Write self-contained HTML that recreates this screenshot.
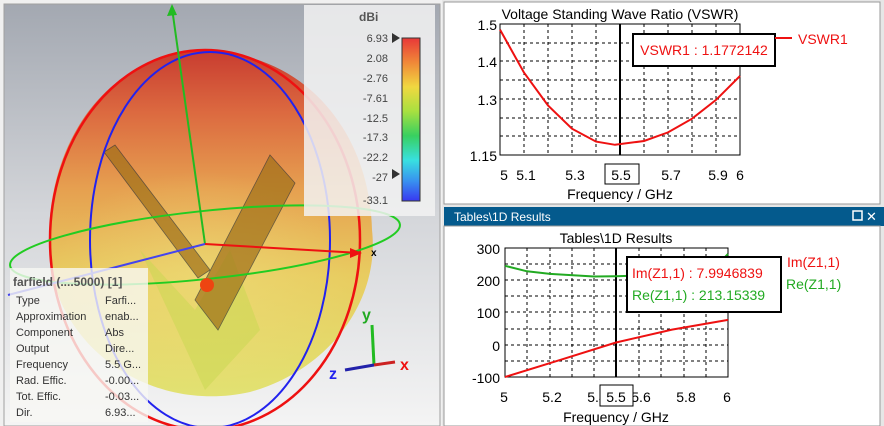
<!DOCTYPE html>
<html><head><meta charset="utf-8"><style>
body{margin:0;width:884px;height:426px;overflow:hidden;background:#e6e6e6;font-family:"Liberation Sans","DejaVu Sans",sans-serif}
svg{position:absolute;left:0;top:0}
</style></head><body>
<svg width="884" height="426" viewBox="0 0 884 426" xmlns="http://www.w3.org/2000/svg" font-family="Liberation Sans, DejaVu Sans, sans-serif">
<defs>
<linearGradient id="bg" x1="0" y1="0" x2="0" y2="1"><stop offset="0" stop-color="#a3a8b1"/><stop offset="0.5" stop-color="#d4d6da"/><stop offset="1" stop-color="#f4f4f4"/></linearGradient>
<linearGradient id="blob" x1="0" y1="0" x2="0" y2="1"><stop offset="0" stop-color="#c83c30"/><stop offset="0.18" stop-color="#dc6a40"/><stop offset="0.4" stop-color="#e6a050"/><stop offset="0.65" stop-color="#e8cc60"/><stop offset="1" stop-color="#e2e272"/></linearGradient>
<radialGradient id="hl" cx="0.5" cy="0.55" r="0.5"><stop offset="0" stop-color="#f0e080" stop-opacity="0.5"/><stop offset="1" stop-color="#f0e080" stop-opacity="0"/></radialGradient>
<linearGradient id="cb" x1="0" y1="0" x2="0" y2="1"><stop offset="0" stop-color="#e83838"/><stop offset="0.15" stop-color="#f08838"/><stop offset="0.3" stop-color="#f0d840"/><stop offset="0.45" stop-color="#a8e040"/><stop offset="0.6" stop-color="#38d060"/><stop offset="0.75" stop-color="#38e0e0"/><stop offset="0.88" stop-color="#3890f0"/><stop offset="1" stop-color="#3838f0"/></linearGradient>
</defs>
<rect x="0" y="0" width="442" height="426" fill="#f0f0f0"/>
<rect x="4" y="4" width="436" height="422" fill="url(#bg)" stroke="#a0a0a0"/>
<path d="M180,52 C300,40 370,130 372,230 C380,300 330,370 250,392 C170,410 90,370 60,300 C30,220 60,80 180,52Z" fill="url(#blob)"/>
<ellipse cx="200" cy="270" rx="150" ry="110" fill="url(#hl)"/>
<path d="M140,250 L195,310 L230,250 L260,330 L205,390 Z" fill="#c8d850" opacity="0.5"/>
<path d="M104,152 L115,145 L210,270 L198,278Z M270,155 L295,183 L218,330 L195,300Z" fill="#a07018" opacity="0.7" stroke="#333" stroke-width="0.8"/>
<ellipse cx="205" cy="240" rx="155" ry="190" fill="none" stroke="#ee1111" stroke-width="2.5"/>
<ellipse cx="210" cy="240" rx="120" ry="188" fill="none" stroke="#2222ee" stroke-width="2"/>
<ellipse cx="205" cy="245" rx="196" ry="34" transform="rotate(-6 205 245)" fill="none" stroke="#22cc22" stroke-width="2"/>
<line x1="205" y1="244" x2="172" y2="8" stroke="#22bb22" stroke-width="2"/>
<polygon points="172,4 167,16 177,15" fill="#22bb22"/>
<line x1="205" y1="244" x2="360" y2="253" stroke="#ee1111" stroke-width="2"/>
<polygon points="362,253 350,248 350,258" fill="#ee1111"/>
<text x="371" y="256" font-size="10" font-weight="bold">x</text>
<line x1="205" y1="244" x2="8" y2="295" stroke="#4444ee" stroke-width="2"/>
<circle cx="207" cy="285" r="7" fill="#ee4411"/>
<rect x="304" y="5" width="131" height="211" fill="#f2f2f2" opacity="0.85"/>
<text x="359" y="21" font-size="12" font-weight="bold" fill="#555">dBi</text>
<rect x="402" y="38" width="18" height="163" fill="url(#cb)" stroke="#333"/>
<g font-size="11" fill="#444" text-anchor="end">
<text x="388" y="42">6.93</text><text x="388" y="62">2.08</text><text x="388" y="82">-2.76</text><text x="388" y="102">-7.61</text><text x="388" y="122">-12.5</text><text x="388" y="141">-17.3</text><text x="388" y="161">-22.2</text><text x="388" y="181">-27</text><text x="388" y="204">-33.1</text></g>
<polygon points="392,33 400,38 392,43" fill="#333"/><polygon points="392,169 400,174 392,179" fill="#333"/>
<rect x="10" y="268" width="138" height="154" fill="#f8f8f4" opacity="0.8"/>
<text x="13" y="286" font-size="12" font-weight="bold" fill="#555">farfield (....5000) [1]</text>
<g font-size="11" fill="#333"><text x="16" y="304">Type</text><text x="16" y="320">Approximation</text><text x="16" y="336">Component</text><text x="16" y="352">Output</text><text x="16" y="368">Frequency</text><text x="16" y="384">Rad. Effic.</text><text x="16" y="400">Tot. Effic.</text><text x="16" y="416">Dir.</text>
<text x="105" y="304">Farfi...</text><text x="105" y="320">enab...</text><text x="105" y="336">Abs</text><text x="105" y="352">Dire...</text><text x="105" y="368">5.5 G...</text><text x="105" y="384">-0.00...</text><text x="105" y="400">-0.03...</text><text x="105" y="416">6.93...</text></g>
<line x1="374" y1="365" x2="372" y2="325" stroke="#22bb22" stroke-width="3"/>
<line x1="374" y1="365" x2="395" y2="362" stroke="#cc2222" stroke-width="3"/>
<line x1="374" y1="365" x2="345" y2="370" stroke="#2222aa" stroke-width="3"/>
<text x="362" y="320" font-size="16" font-weight="bold" fill="#22aa22">y</text>
<text x="400" y="370" font-size="16" font-weight="bold" fill="#ee1111">x</text>
<text x="329" y="379" font-size="16" font-weight="bold" fill="#2222ee">z</text>
<rect x="444" y="2" width="436" height="202" fill="#fff" stroke="#999"/>
<g stroke="#000" stroke-dasharray="3,3" stroke-width="1">
<path d="M524,24V155M548,24V155M572,24V155M596,24V155M644,24V155M668,24V155M692,24V155M716,24V155"/>
<path d="M500,43H740M500,61H740M500,80H740M500,99H740M500,118H740M500,136H740"/></g>
<rect x="500" y="24" width="240" height="131" fill="none" stroke="#000"/>
<line x1="620" y1="24" x2="620" y2="155" stroke="#000" stroke-width="2"/>
<polyline points="500,29.6 524,72.6 548,105.5 572,128.7 596,141.6 615,144.8 644,141 668,132.4 692,118.7 716,99.9 740,76" fill="none" stroke="#ee1111" stroke-width="2"/>
<g font-size="14" fill="#000"><text x="620" y="19" text-anchor="middle">Voltage Standing Wave Ratio (VSWR)</text>
<text x="497" y="30" text-anchor="end">1.5</text><text x="497" y="67" text-anchor="end">1.4</text><text x="497" y="105" text-anchor="end">1.3</text><text x="497" y="161" text-anchor="end">1.15</text>
<text x="504" y="180" text-anchor="middle">5</text><text x="526" y="180" text-anchor="middle">5.1</text><text x="575" y="180" text-anchor="middle">5.3</text><text x="621" y="180" text-anchor="middle">5.5</text><text x="671" y="180" text-anchor="middle">5.7</text><text x="718" y="180" text-anchor="middle">5.9</text><text x="740" y="180" text-anchor="middle">6</text>
<text x="620" y="199" text-anchor="middle">Frequency / GHz</text></g>
<rect x="605" y="164" width="34" height="20" fill="none" stroke="#000"/>
<rect x="633" y="34" width="142" height="32" fill="#fff" stroke="#000" stroke-width="2"/>
<text x="704" y="55" font-size="14" fill="#ee1111" text-anchor="middle">VSWR1 : 1.1772142</text>
<line x1="775" y1="38" x2="792" y2="38" stroke="#ee1111" stroke-width="2"/>
<text x="798" y="44" font-size="14" fill="#ee1111">VSWR1</text>
<rect x="444" y="207" width="440" height="19" fill="#045a8d"/>
<text x="454" y="221" font-size="12" fill="#fff">Tables\1D Results</text>
<rect x="853" y="211" width="9" height="9" fill="none" stroke="#fff" stroke-width="1.5"/>
<text x="866" y="221" font-size="13" fill="#fff">✕</text>
<rect x="444" y="226" width="436" height="200" fill="#fff" stroke="#999"/>
<g stroke="#000" stroke-dasharray="3,3"><path d="M527,248V377M550,248V377M572,248V377M594,248V377M639,248V377M661,248V377M684,248V377M706,248V377"/>
<path d="M505,264H728M505,280H728M505,296H728M505,312H728M505,329H728M505,345H728M505,361H728"/></g>
<rect x="505" y="248" width="223" height="129" fill="none" stroke="#000"/>
<line x1="616" y1="248" x2="616" y2="377" stroke="#000" stroke-width="2"/>
<polyline points="505,265.8 527,271.3 550,273.9 594,276.5 616,276.2 639,275.5 706,268 720,262 728,254" fill="none" stroke="#22aa22" stroke-width="2"/>
<polyline points="505,377 561,359.7 616,342.5 672,329.6 728,319.9" fill="none" stroke="#ee1111" stroke-width="2"/>
<g font-size="14" fill="#000"><text x="616" y="243" text-anchor="middle">Tables\1D Results</text>
<text x="500" y="254" text-anchor="end">300</text><text x="500" y="286" text-anchor="end">200</text><text x="500" y="318" text-anchor="end">100</text><text x="500" y="351" text-anchor="end">0</text><text x="500" y="383" text-anchor="end">-100</text>
<text x="504" y="402" text-anchor="middle">5</text><text x="552" y="402" text-anchor="middle">5.2</text><text x="597" y="402" text-anchor="middle">5.4</text><text x="641" y="402" text-anchor="middle">5.6</text><text x="686" y="402" text-anchor="middle">5.8</text><text x="727" y="402" text-anchor="middle">6</text>
<text x="616" y="422" text-anchor="middle">Frequency / GHz</text></g>
<rect x="600" y="385" width="33" height="21" fill="#fff" stroke="#000"/>
<text x="616" y="402" font-size="14" text-anchor="middle">5.5</text>
<rect x="627" y="257" width="154" height="55" fill="#fff" stroke="#000" stroke-width="2"/>
<text x="632" y="278" font-size="14" fill="#ee1111">Im(Z1,1) : 7.9946839</text>
<text x="632" y="300" font-size="14" fill="#22aa22">Re(Z1,1) : 213.15339</text>
<text x="787" y="267" font-size="14" fill="#ee1111">Im(Z1,1)</text>
<text x="786" y="289" font-size="14" fill="#22aa22">Re(Z1,1)</text>
</svg>
</body></html>
